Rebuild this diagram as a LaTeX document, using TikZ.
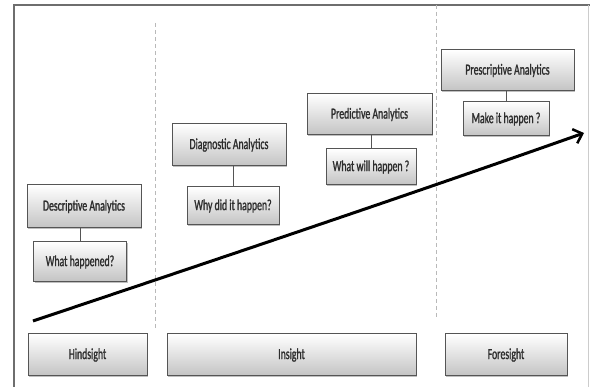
\documentclass[tikz,border=0pt]{standalone}
\usepackage{fontspec}
\setmainfont{Carlito}[FakeStretch=0.63, FakeBold=1.2]
\usetikzlibrary{arrows.meta,shadows}
\definecolor{framegray}{RGB}{110,110,110}
\definecolor{boxedge}{RGB}{85,85,85}
\definecolor{boxbottom}{RGB}{195,195,195}
\definecolor{textgray}{RGB}{45,45,45}
\begin{document}
\begin{tikzpicture}[x=1pt,y=-1pt,
  box/.style={draw=boxedge, line width=1pt, rectangle, inner sep=0pt,
    top color=white, bottom color=boxbottom, text=textgray,
    font=\fontsize{15.5}{17}\selectfont,
    drop shadow={shadow xshift=1.2pt, shadow yshift=-1.5pt, fill=black, opacity=0.25}},
  link/.style={draw=boxedge, line width=0.9pt},
  divider/.style={draw=gray!55, line width=0.9pt, dashed, dash pattern=on 4pt off 3pt},
  trend/.style={line width=3pt, black, -{Straight Barb[length=8pt,width=15pt,line width=2.5pt]}}]
\useasboundingbox (0,0) rectangle (590,387);

% outer frame
\draw[framegray, line width=1.5pt] (14,387) -- (14,5) -- (590,5);
\draw[gray!40, line width=0.8pt] (588,5) -- (588,387);

% phase dividers
\draw[divider] (155,23) -- (155,328);
\draw[divider] (436,5) -- (436,317);

% analytics stages
\node[box, minimum width=114pt, minimum height=43pt] (desc) at (84,206.5) {Descriptive Analytics};
\node[box, minimum width=93pt, minimum height=40pt] (what) at (80,262) {What happened?};
\node[box, minimum width=114pt, minimum height=42pt] (diag) at (229,145) {Diagnostic Analytics};
\node[box, minimum width=92pt, minimum height=38pt] (why) at (233,206) {Why did it happen?};
\node[box, minimum width=125pt, minimum height=41pt] (pred) at (369.5,114.5) {Predictive Analytics};
\node[box, minimum width=90pt, minimum height=36pt] (will) at (371,167) {What will happen ?};
\node[box, minimum width=133pt, minimum height=41pt] (pres) at (507.5,70.5) {Prescriptive Analytics};
\node[box, minimum width=86pt, minimum height=34pt] (make) at (506,119) {Make it happen ?};

\draw[link] (what.north) -- (what.north |- desc.south);
\draw[link] (why.north) -- (why.north |- diag.south);
\draw[link] (will.north) -- (will.north |- pred.south);
\draw[link] (make.north) -- (make.north |- pres.south);

% phases
\node[box, minimum width=119pt, minimum height=42pt] (hind) at (87.5,355) {Hindsight};
\node[box, minimum width=249pt, minimum height=42pt] (ins) at (291.5,355) {Insight};
\node[box, minimum width=122pt, minimum height=42pt] (fore) at (506,355) {Foresight};

% value trend
\coordinate (tstart) at (33,321);
\coordinate (tend) at (584,133);
\draw[trend] (tstart) .. controls (200,265) and (400,198) .. (tend);
\end{tikzpicture}
\end{document}
